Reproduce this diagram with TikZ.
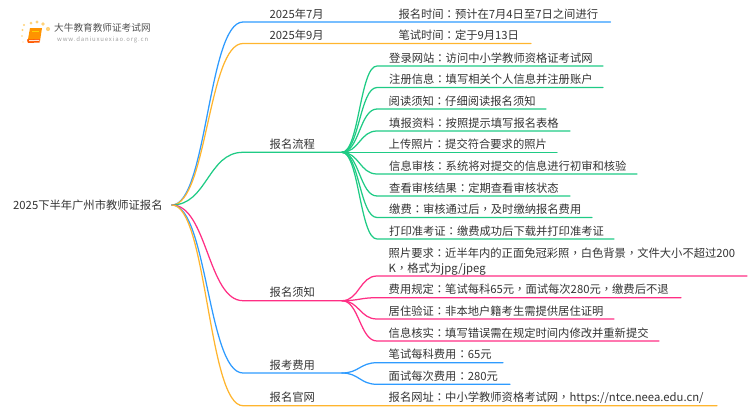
\documentclass[tikz,border=0pt]{standalone}
\usepackage{fontspec}
\setmainfont{Noto Sans CJK SC}
\newfontfamily\tcfont{Noto Sans CJK TC}
\newcommand\pc{{\tcfont ：}}
\newcommand\cm{{\tcfont ，}}
\definecolor{cblue}{HTML}{2E9BFF}
\definecolor{corange}{HTML}{FFB52E}
\definecolor{cgreen}{HTML}{1FCB85}
\definecolor{cpink}{HTML}{FF2E84}
\definecolor{ctext}{HTML}{333333}
\definecolor{cdot}{HTML}{FFD27A}
\tikzset{
  lbl/.style={inner sep=0pt,anchor=base west,text=ctext,font=\fontsize{11.3}{14.5}\selectfont},
  link/.style={line width=1.25pt,line cap=round},
}
% name, colour, hub, y, end x, text x, text
\newcommand\leaf[7]{%
  \coordinate (#1s) at (377,#4);
  \coordinate (#1e) at (#5,#4);
  \draw[link,#2] (#3) .. controls +(17,0) and +(-17,0) .. (#1s) -- (#1e);
  \node[lbl] (#1t) at (#6,#4-4) {#7};
}
% name, colour, y, hub x or end x, text
\newcommand\branch[5]{%
  \coordinate (#1s) at (243,#3);
  \coordinate (#1) at (#4,#3);
  \draw[link,#2] (root) .. controls +(35,0) and +(-35,0) .. (#1s) -- (#1);
  \node[lbl] (#1t) at (269.5,#3-4) {#5};
}
\begin{document}
\begin{tikzpicture}[x=1pt,y=-1pt]
\useasboundingbox (0,0) rectangle (750,410);
\node[lbl] (roott) at (13,209) {2025下半年广州市教师证报名};
\coordinate (root) at (172,205);
% logo
\foreach \px/\py/\r in {24/25/1.2,31/23/1.5,37/22/1.7,43/24/1.8,48/29/2.1,22.5/30/1.1,22/36/0.9,23/42/0.7}
  \fill[cdot] (\px,\py) circle (\r);
\fill[orange!85!yellow] (30,28) -- (42,28) -- (40,41) -- (27.5,42) -- cycle;
\fill[orange!70!red] (27,39.5) -- (40,39) -- (39.5,42.5) -- (28,43) -- cycle;
\fill[yellow!70!orange] (31.5,31) rectangle (39,32);
\fill[white,opacity=.85] (29,40.2) -- (39.5,39.8) -- (39.3,40.8) -- (29,41.2) -- cycle;
\node[inner sep=0pt,anchor=base west,text=ctext!85!white,font=\fontsize{9.65}{10}\selectfont] (logoa) at (54,31) {大牛教育教师证考试网};
\node[inner sep=0pt,anchor=base west,text=gray!75,font=\fontsize{6}{6}\selectfont] (logob) at (57,41) {\addfontfeature{LetterSpace=14}www.daniuxuexiao.org.cn};
% branches
\branch{a}{cblue}{22}{610.5}{2025年7月}
\branch{b}{corange}{43.5}{531}{2025年9月}
\branch{c}{cgreen}{152.3}{342}{报名流程}
\branch{d}{cpink}{300.7}{342}{报名须知}
\branch{e}{cblue}{373}{342}{报考费用}
\branch{f}{corange}{405.7}{717}{报名官网}
\node[lbl] (at1) at (398.3,18) {报名时间\pc 预计在7月4日至7日之间进行};
\node[lbl] (bt1) at (398.3,39.5) {笔试时间\pc 定于9月13日};
\node[lbl] (ft1) at (388.5,401.7) {报名网址\pc 中小学教师资格考试网\cm https://ntce.neea.edu.cn/};
% process
\leaf{c1}{cgreen}{c}{66}{603}{389}{登录网站\pc 访问中小学教师资格证考试网}
\leaf{c2}{cgreen}{c}{87.5}{603}{389}{注册信息\pc 填写相关个人信息并注册账户}
\leaf{c3}{cgreen}{c}{109}{546}{388.5}{阅读须知\pc 仔细阅读报名须知}
\leaf{c4}{cgreen}{c}{131}{570}{389}{填报资料\pc 按照提示填写报名表格}
\leaf{c5}{cgreen}{c}{152.3}{557}{388.5}{上传照片\pc 提交符合要求的照片}
\leaf{c6}{cgreen}{c}{174}{637}{389}{信息审核\pc 系统将对提交的信息进行初审和核验}
\leaf{c7}{cgreen}{c}{196}{570}{389}{查看审核结果\pc 定期查看审核状态}
\leaf{c8}{cgreen}{c}{217.5}{592}{389}{缴费\pc 审核通过后\cm 及时缴纳报名费用}
\leaf{c9}{cgreen}{c}{239}{614}{389}{打印准考证\pc 缴费成功后下载并打印准考证}
% notes
\leaf{d1}{cpink}{d}{276}{747}{388.5}{K\cm 格式为jpg/jpeg}
\node[lbl] (d1u) at (388.5,257.5) {照片要求\pc 近半年内的正面免冠彩照\cm 白色背景\cm 文件大小不超过200};
\leaf{d2}{cpink}{d}{297.7}{681}{388.5}{费用规定\pc 笔试每科65元\cm 面试每次280元\cm 缴费后不退}
\leaf{d3}{cpink}{d}{319}{614}{388.5}{居住验证\pc 非本地户籍考生需提供居住证明}
\leaf{d4}{cpink}{d}{341}{659}{388.5}{信息核实\pc 填写错误需在规定时间内修改并重新提交}
% fees
\leaf{e1}{cblue}{e}{362.7}{503}{388.5}{笔试每科费用\pc 65元}
\leaf{e2}{cblue}{e}{384.3}{510}{388.5}{面试每次费用\pc 280元}
\end{tikzpicture}
\end{document}
